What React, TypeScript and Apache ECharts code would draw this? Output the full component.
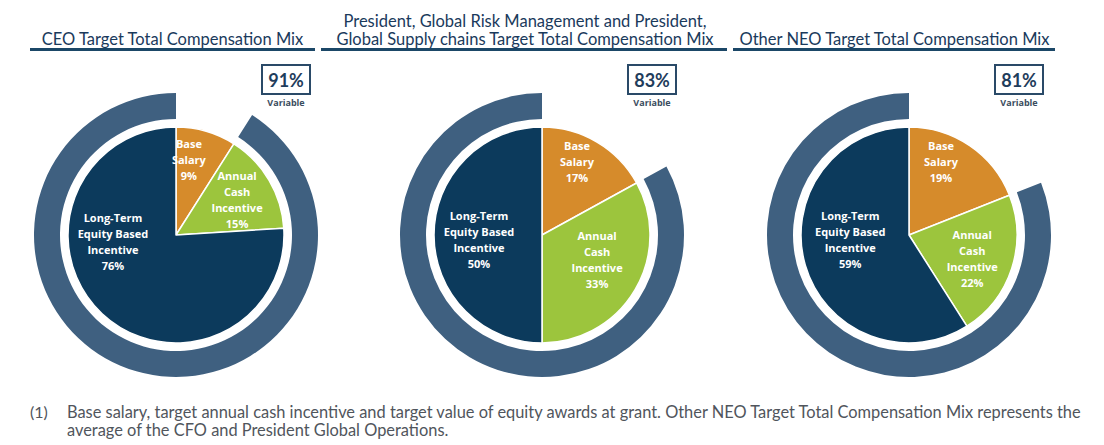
import React, { useEffect, useRef } from "react";
import * as echarts from "echarts";

// ---------- data ----------
const titles = [
  "CEO Target Total Compensation Mix",
  "President, Global Risk Management and President,\nGlobal Supply chains Target Total Compensation Mix",
  "Other NEO Target Total Compensation Mix",
];
const sliceNames = ["Base\nSalary", "Annual\nCash\nIncentive", "Long-Term\nEquity Based\nIncentive"];
const baseSalary = [9, 17, 19];
const annualCash = [15, 33, 22];
const longTermEquity = [76, 50, 59];
const variablePct = [91, 83, 81];
const variableLabel = "Variable";
const footnoteMark = "(1)";
const footnoteText =
  "Base salary, target annual cash incentive and target value of equity awards at grant. Other NEO Target Total Compensation Mix represents the\naverage of the CFO and President Global Operations.";

// ---------- layout / style ----------
const centersX = [176, 542, 909];
const centerY = 235;
const pieRadius = 108;
const ringRadius = [116, 142];
const titleCenters = [172.5, 525, 894.5];
const underlines = [
  [30, 315],
  [321, 727],
  [733, 1055],
];
const labelOffsets = [
  [[-3, -21], [12, -6], [-24, -35]],
  [[6, -24], [6, -5], [-6, 4]],
  [[0, -26], [9, 6], [-4, -11]],
];
const sliceColors = ["#d68b2b", "#9cc53d", "#0c3a5c"];
const ringColor = "#3f6080";
const navy = "#1a3a5c";

export default function App() {
  const ref = useRef<HTMLDivElement>(null);

  useEffect(() => {
    if (!ref.current) return;
    const chart = echarts.init(ref.current, undefined, { renderer: "svg" });
    const sliceValues = [baseSalary, annualCash, longTermEquity];

    const series: any[] = [];
    centersX.forEach((cx, i) => {
      series.push({
        type: "pie",
        center: [cx, centerY],
        radius: ringRadius,
        startAngle: 90,
        clockwise: true,
        silent: true,
        label: { show: false },
        labelLine: { show: false },
        data: [
          { name: "gap", value: baseSalary[i], itemStyle: { color: "rgba(0,0,0,0)" } },
          { name: "Variable", value: variablePct[i], itemStyle: { color: ringColor } },
        ],
      });
      series.push({
        type: "pie",
        center: [cx, centerY],
        radius: [0, pieRadius],
        startAngle: 90,
        clockwise: true,
        silent: true,
        avoidLabelOverlap: false,
        itemStyle: { borderColor: "#ffffff", borderWidth: 1.5 },
        label: {
          show: true,
          position: "inside",
          formatter: "{b}\n{c}%",
          color: "#ffffff",
          fontFamily: "Open Sans",
          fontWeight: "bold",
          fontSize: 11,
          lineHeight: 16,
          align: "center",
        },
        labelLine: { show: false },
        labelLayout: (p: any) => {
          const o = labelOffsets[i][p.dataIndex];
          return { dx: o[0], dy: o[1] };
        },
        data: sliceNames.map((n, j) => ({
          name: n,
          value: sliceValues[j][i],
          itemStyle: { color: sliceColors[j] },
        })),
      });
    });

    const graphic: any[] = [];
    titles.forEach((t, i) => {
      const lines = t.split("\n");
      const lineGap = 18;
      const lastY = 39;
      lines.forEach((ln, k) => {
        graphic.push({
          type: "text",
          x: titleCenters[i],
          y: lastY - (lines.length - 1 - k) * lineGap,
          style: {
            text: ln,
            fill: navy,
            font: "16.5px Lato",
            align: "center",
            verticalAlign: "middle",
          },
        });
      });
      graphic.push({
        type: "line",
        shape: { x1: underlines[i][0], y1: 49.5, x2: underlines[i][1], y2: 49.5 },
        style: { stroke: "#1b4767", lineWidth: 3 },
      });
      const bx = centersX[i] + 86;
      graphic.push({
        type: "rect",
        shape: { x: bx, y: 65, width: 48, height: 29 },
        style: { fill: "#ffffff", stroke: "#2a4a68", lineWidth: 2 },
      });
      graphic.push({
        type: "text",
        x: bx + 24,
        y: 80,
        style: {
          text: variablePct[i] + "%",
          fill: "#1f3d5c",
          font: "bold 18px Lato",
          align: "center",
          verticalAlign: "middle",
        },
      });
      graphic.push({
        type: "text",
        x: bx + 24,
        y: 102,
        style: {
          text: variableLabel,
          fill: "#3b4d60",
          font: "bold 9px 'Open Sans'",
          align: "center",
          verticalAlign: "middle",
        },
      });
    });
    graphic.push({
      type: "text",
      x: 30,
      y: 411,
      style: { text: footnoteMark, fill: "#50555c", font: "16px Lato", verticalAlign: "middle" },
    });
    graphic.push({
      type: "text",
      x: 67,
      y: 402,
      style: {
        text: footnoteText,
        fill: "#50555c",
        font: "16.4px Lato",
        verticalAlign: "top",
        lineHeight: 18,
      },
    });

    chart.setOption({
      animation: false,
      backgroundColor: "#ffffff",
      series,
      graphic,
    });
    return () => chart.dispose();
  }, []);

  return (
    <div
      ref={ref}
      style={{ position: "absolute", left: 0, top: 0, width: 1104, height: 445 }}
    />
  );
}
